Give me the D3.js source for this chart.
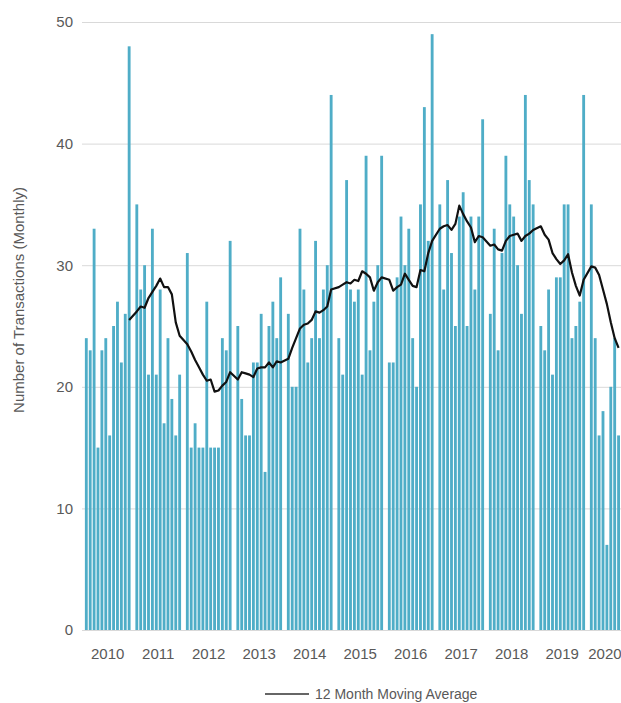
<!DOCTYPE html>
<html>
<head>
<meta charset="utf-8">
<script src="https://cdn.jsdelivr.net/npm/d3@7"></script>
<style>
  html, body { margin: 0; padding: 0; background: #ffffff; }
  svg { display: block; font-family: "Liberation Sans", Arial, sans-serif; }
</style>
</head>
<body>
<svg id="chart" width="621" height="703"></svg>
<script>
// ---- data (monthly transaction counts) ----
const years = ["2010","2011","2012","2013","2014","2015","2016","2017","2018","2019","2020"];
const m2010 = [24, 23, 33, 15, 23, 24, 16, 25, 27, 22, 26, 48];
const m2011 = [35, 28, 30, 21, 33, 21, 28, 17, 24, 19, 16, 21];
const m2012 = [31, 15, 17, 15, 15, 27, 15, 15, 15, 24, 23, 32];
const m2013 = [25, 19, 16, 16, 22, 22, 26, 13, 25, 27, 24, 29];
const m2014 = [26, 20, 20, 33, 28, 22, 24, 32, 24, 28, 30, 44];
const m2015 = [24, 21, 37, 28, 27, 28, 21, 39, 23, 27, 30, 39];
const m2016 = [22, 22, 29, 34, 30, 33, 24, 20, 35, 43, 32, 49];
const m2017 = [35, 28, 37, 31, 25, 34, 36, 25, 34, 28, 34, 42];
const m2018 = [26, 33, 23, 31, 39, 35, 34, 30, 26, 44, 37, 35];
const m2019 = [25, 23, 28, 21, 29, 29, 35, 35, 24, 25, 27, 44];
const m2020 = [35, 24, 16, 18, 7, 20, 24, 16];

// 12 month moving average line (Dec 2010 .. Aug 2020)
const ma2010 = [25.5];
const ma2011 = [26.2, 26.6, 26.5, 27.3, 27.8, 28.3, 28.9, 28.2, 28.2, 27.6, 25.3, 24.2];
const ma2012 = [23.5, 22.9, 22.2, 21.6, 21.0, 20.5, 20.6, 19.6, 19.7, 20.1, 20.4, 21.2];
const ma2013 = [20.6, 21.2, 21.1, 21.0, 20.8, 21.5, 21.6, 21.6, 22.0, 21.6, 22.1, 22.0];
const ma2014 = [22.3, 23.2, 24.0, 24.8, 25.1, 25.2, 25.5, 26.2, 26.1, 26.3, 26.6, 28.0];
const ma2015 = [28.2, 28.4, 28.6, 28.5, 28.8, 28.7, 29.5, 29.3, 29.0, 27.9, 28.6, 29.0];
const ma2016 = [28.8, 27.9, 28.2, 28.4, 29.3, 28.8, 28.3, 28.2, 29.6, 29.5, 31.0, 32.0];
const ma2017 = [33.0, 33.2, 33.3, 32.9, 33.4, 34.9, 34.2, 33.6, 33.1, 31.9, 32.4, 32.3];
const ma2018 = [31.6, 31.7, 31.3, 31.2, 32.0, 32.4, 32.5, 32.6, 32.0, 32.4, 32.6, 32.9];
const ma2019 = [33.2, 32.5, 32.1, 31.0, 30.5, 30.1, 30.4, 30.9, 29.4, 28.3, 27.5, 28.8];
const ma2020 = [29.9, 29.8, 29.2, 28.0, 26.8, 25.3, 24.0, 23.2];

const yTicks = [0, 10, 20, 30, 40, 50];
const yTitle = "Number of Transactions (Monthly)";
const legendLabel = "12 Month Moving Average";

// ---- build tables ----
const byYear = [m2010, m2011, m2012, m2013, m2014, m2015, m2016, m2017, m2018, m2019, m2020];
const maByYear = [ma2010, ma2011, ma2012, ma2013, ma2014, ma2015, ma2016, ma2017, ma2018, ma2019, ma2020];
const rows = [];
byYear.forEach((arr, yi) => arr.forEach((v, mi) => rows.push({year: years[yi], month: mi, value: v})));
const maRows = [];
maByYear.forEach((arr, yi) => {
  const startMonth = yi === 0 ? 12 - arr.length : 0;
  arr.forEach((v, k) => maRows.push({year: years[yi], month: startMonth + k, ma: v}));
});

// ---- scales ----
const svg = d3.select("#chart");
const plotLeft = 84.5, plotTop = 22, plotBottom = 630;
const x0 = d3.scaleBand().domain(years)
  .range([plotLeft, plotLeft + 50.5 * (years.length - 0.08)])
  .paddingInner(0.08).paddingOuter(0);
const x1 = d3.scaleBand().domain(d3.range(12))
  .range([0, x0.bandwidth()])
  .paddingInner(0.27).paddingOuter(0.1);
const y = d3.scaleLinear().domain([0, 50]).range([plotBottom, plotTop]);
const cx = d => x0(d.year) + x1(d.month) + x1.bandwidth() / 2;

// ---- y axis + gridlines ----
const yAxis = d3.axisLeft(y).tickValues(yTicks)
  .tickSize(-(621 - 82)).tickPadding(9).tickFormat(d3.format("d"));
const gy = svg.append("g").attr("transform", "translate(82,0)").call(yAxis);
gy.select(".domain").remove();
gy.selectAll(".tick line").attr("stroke", "#d9d9d9").attr("stroke-width", 1);
gy.selectAll(".tick text").attr("fill", "#595959").attr("font-size", 15)
  .attr("font-family", "Liberation Sans, Arial, sans-serif");

// ---- bars ----
svg.append("g").selectAll("rect").data(rows).join("rect")
  .attr("x", d => x0(d.year) + x1(d.month))
  .attr("width", x1.bandwidth())
  .attr("y", d => y(d.value))
  .attr("height", d => y(0) - y(d.value))
  .attr("fill", "#4fadc7");

// ---- moving average line ----
const line = d3.line().x(cx).y(d => y(d.ma));
svg.append("path").datum(maRows)
  .attr("d", line).attr("fill", "none")
  .attr("stroke", "#111111").attr("stroke-width", 2.2)
  .attr("stroke-linejoin", "round");

// ---- x labels (centred under each year's bars) ----
const yearCentres = years.map(yr => {
  const r = rows.filter(d => d.year === yr);
  return {year: yr, x: (cx(r[0]) + cx(r[r.length - 1])) / 2};
});
svg.append("g").selectAll("text").data(yearCentres).join("text")
  .attr("x", d => d.x).attr("y", 659)
  .attr("text-anchor", "middle").attr("font-size", 15).attr("fill", "#595959")
  .text(d => d.year);

// ---- y title ----
svg.append("text")
  .attr("transform", "translate(24,300) rotate(-90)")
  .attr("text-anchor", "middle").attr("font-size", 15).attr("fill", "#595959")
  .text(yTitle);

// ---- legend ----
const lg = svg.append("g").attr("transform", "translate(265,694)");
lg.append("line").attr("x1", 0).attr("x2", 44).attr("y1", 0).attr("y2", 0)
  .attr("stroke", "#333333").attr("stroke-width", 1.6);
lg.append("text").attr("x", 50).attr("y", 5)
  .attr("font-size", 14).attr("fill", "#595959").text(legendLabel);
</script>
</body>
</html>
